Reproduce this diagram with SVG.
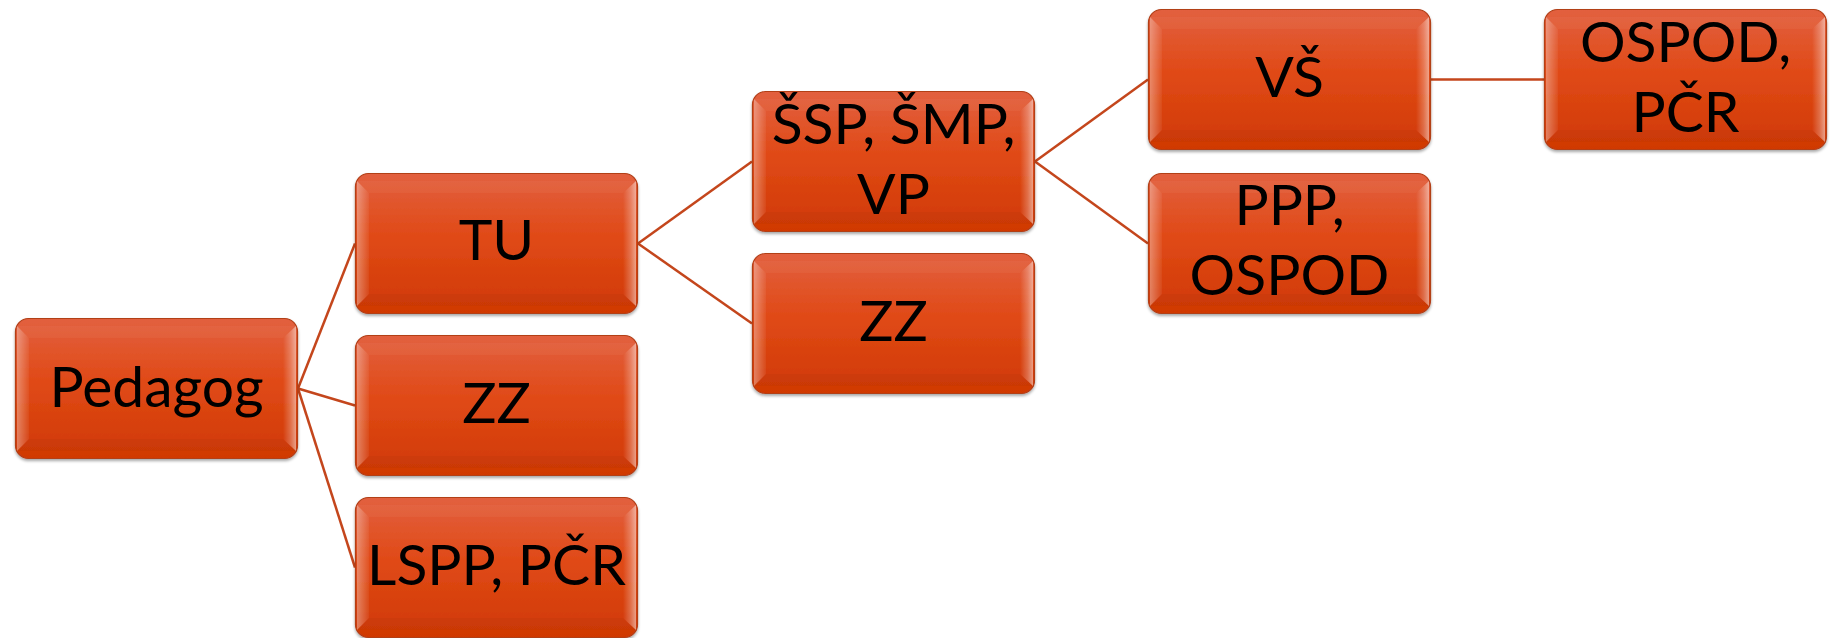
<svg xmlns="http://www.w3.org/2000/svg" xmlns:xlink="http://www.w3.org/1999/xlink" width="1830" height="638" viewBox="0 0 1830 638">
<style>
.lbl{font-family:Lato,"Open Sans","Liberation Sans",sans-serif;font-size:57px;fill:#000;text-anchor:middle}
.conn line{stroke:#C4461C;stroke-width:2.5;fill:none}
</style>
<defs>
<linearGradient id="fillG" x1="0" y1="0" x2="0" y2="1">
<stop offset="0" stop-color="#E2603F"/>
<stop offset="0.45" stop-color="#E04A17"/>
<stop offset="1" stop-color="#D03904"/>
</linearGradient>
<linearGradient id="leftG" x1="0" y1="0" x2="1" y2="0">
<stop offset="0" stop-color="#fff" stop-opacity="0.35"/>
<stop offset="1" stop-color="#fff" stop-opacity="0.05"/>
</linearGradient>
<linearGradient id="rightG" x1="0" y1="0" x2="1" y2="0">
<stop offset="0" stop-color="#fff" stop-opacity="0.0"/>
<stop offset="0.6" stop-color="#fff" stop-opacity="0.25"/>
<stop offset="1" stop-color="#fff" stop-opacity="0.5"/>
</linearGradient>
<filter id="sh" x="-5%" y="-5%" width="110%" height="115%">
<feGaussianBlur in="SourceAlpha" stdDeviation="1.5"/>
<feOffset dy="2" result="o"/>
<feComponentTransfer><feFuncA type="linear" slope="0.35"/></feComponentTransfer>
<feMerge><feMergeNode/><feMergeNode in="SourceGraphic"/></feMerge>
</filter>
<g id="box">
<rect x="0.5" y="0.5" width="282" height="140" rx="13" ry="13" fill="url(#fillG)" stroke="#B23F18" stroke-width="1.2" filter="url(#sh)"/>
<polygon points="2,8 14,20 14,121 2,133" fill="url(#leftG)"/>
<polygon points="281,8 268,20 268,121 281,133" fill="url(#rightG)"/>
<polygon points="14,20 268,20 281,8 2,8" fill="#fff" fill-opacity="0.04"/>
<polygon points="14,121 268,121 281,133 2,133" fill="#000" fill-opacity="0.03"/>
</g>
</defs>
<rect width="1830" height="638" fill="#fff"/>
<g class="conn" id="connectors">
<line x1="298" y1="388.5" x2="355" y2="243.5"/>
<line x1="298" y1="388.5" x2="355" y2="405.5"/>
<line x1="298" y1="388.5" x2="355" y2="567.5"/>
<line x1="638" y1="243.5" x2="752" y2="161.5"/>
<line x1="638" y1="243.5" x2="752" y2="323.5"/>
<line x1="1035" y1="161.5" x2="1148" y2="79.5"/>
<line x1="1035" y1="161.5" x2="1148" y2="243.5"/>
<line x1="1431" y1="79.5" x2="1544" y2="79.5"/>
</g>
<g id="n-pedagog"><use xlink:href="#box" x="15" y="318"/><text class="lbl" x="156.5" y="407">Pedagog</text></g>
<g id="n-tu"><use xlink:href="#box" x="355" y="173"/><text class="lbl" x="496.5" y="260">TU</text></g>
<g id="n-zz1"><use xlink:href="#box" x="355" y="335"/><text class="lbl" x="496.5" y="423">ZZ</text></g>
<g id="n-lspp"><use xlink:href="#box" x="355" y="497"/><text class="lbl" x="496.5" y="585">LSPP, PČR</text></g>
<g id="n-ssp"><use xlink:href="#box" x="752" y="91"/><text class="lbl" x="893.5" y="144">ŠSP, ŠMP,</text><text class="lbl" x="893.5" y="214">VP</text></g>
<g id="n-zz2"><use xlink:href="#box" x="752" y="253"/><text class="lbl" x="893.5" y="341">ZZ</text></g>
<g id="n-vs"><use xlink:href="#box" x="1148" y="9"/><text class="lbl" x="1289.5" y="97">VŠ</text></g>
<g id="n-ppp"><use xlink:href="#box" x="1148" y="173"/><text class="lbl" x="1289.5" y="225">PPP,</text><text class="lbl" x="1289.5" y="295">OSPOD</text></g>
<g id="n-ospod"><use xlink:href="#box" x="1544" y="9"/><text class="lbl" x="1685.5" y="62">OSPOD,</text><text class="lbl" x="1685.5" y="132">PČR</text></g>
</svg>
